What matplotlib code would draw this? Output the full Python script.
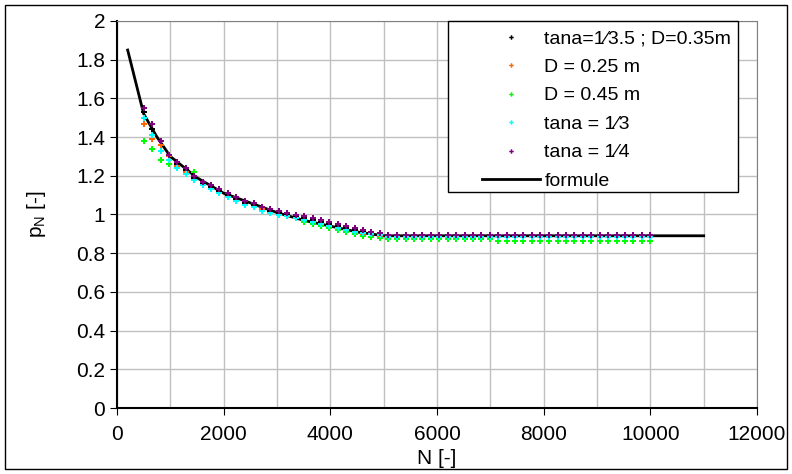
import matplotlib.pyplot as plt
from matplotlib.ticker import MultipleLocator, FormatStrFormatter

plt.rcParams['font.family'] = ['Liberation Sans', 'DejaVu Sans']
plt.rcParams['mathtext.default'] = 'regular'

# N values of the measured points
n_pts = [500, 660, 820, 980, 1130, 1290, 1450, 1610, 1770, 1920,
         2080, 2240, 2400, 2560, 2720, 2870, 3030, 3190, 3350, 3510,
         3670, 3820, 3980, 4140, 4300, 4460, 4620, 4770, 4930, 5090,
         5250, 5410, 5570, 5720, 5880, 6040, 6200, 6360, 6520, 6670,
         6830, 6990, 7150, 7310, 7470, 7620, 7780, 7940, 8100, 8260,
         8420, 8570, 8730, 8890, 9050, 9210, 9370, 9520, 9680, 9840, 10000]

p_ref = [1.53, 1.44, 1.36, 1.30, 1.26, 1.23, 1.19, 1.16, 1.14, 1.12,
         1.10, 1.08, 1.06, 1.05, 1.03, 1.02, 1.01, 1.00, 0.99, 0.98,
         0.97, 0.96, 0.95, 0.94, 0.93, 0.92, 0.91, 0.90, 0.90, 0.89,
         0.89, 0.89, 0.89, 0.89, 0.89, 0.89, 0.89, 0.89, 0.89, 0.89,
         0.89, 0.89, 0.89, 0.89, 0.89, 0.89, 0.89, 0.89, 0.89, 0.89,
         0.89, 0.89, 0.89, 0.89, 0.89, 0.89, 0.89, 0.89, 0.89, 0.89, 0.89]

p_d025 = [1.47, 1.39, 1.36, 1.30, 1.25, 1.22, 1.18, 1.15, 1.13, 1.11,
          1.09, 1.07, 1.05, 1.04, 1.03, 1.01, 1.00, 0.99, 0.98, 0.97,
          0.96, 0.95, 0.94, 0.93, 0.92, 0.91, 0.90, 0.90, 0.89, 0.885,
          0.885, 0.885, 0.885, 0.885, 0.885, 0.885, 0.885, 0.885, 0.885, 0.885,
          0.885, 0.885, 0.885, 0.885, 0.885, 0.885, 0.885, 0.885, 0.885, 0.885,
          0.885, 0.885, 0.885, 0.885, 0.885, 0.885, 0.885, 0.885, 0.885, 0.885, 0.885]

p_d045 = [1.38, 1.34, 1.28, 1.26, 1.24, 1.21, 1.22, 1.15, 1.13, 1.11,
          1.09, 1.07, 1.05, 1.04, 1.02, 1.01, 1.00, 0.99, 0.98, 0.96,
          0.95, 0.94, 0.93, 0.92, 0.91, 0.90, 0.89, 0.885, 0.88, 0.875,
          0.875, 0.875, 0.875, 0.875, 0.875, 0.875, 0.875, 0.875, 0.875, 0.875,
          0.875, 0.875, 0.865, 0.865, 0.865, 0.865, 0.865, 0.865, 0.865, 0.865,
          0.865, 0.865, 0.865, 0.865, 0.865, 0.865, 0.865, 0.865, 0.865, 0.865, 0.865]

p_tan3 = [1.50, 1.41, 1.33, 1.28, 1.24, 1.21, 1.18, 1.15, 1.13, 1.11,
          1.09, 1.07, 1.05, 1.04, 1.02, 1.01, 1.00, 0.99, 0.98, 0.97,
          0.96, 0.95, 0.94, 0.93, 0.92, 0.91, 0.905, 0.90, 0.895, 0.885,
          0.885, 0.885, 0.885, 0.885, 0.885, 0.885, 0.885, 0.885, 0.885, 0.885,
          0.885, 0.885, 0.885, 0.885, 0.885, 0.885, 0.885, 0.885, 0.885, 0.885,
          0.885, 0.885, 0.885, 0.885, 0.885, 0.885, 0.885, 0.885, 0.885, 0.885, 0.885]

p_tan4 = [1.55, 1.47, 1.38, 1.31, 1.27, 1.24, 1.20, 1.17, 1.15, 1.13,
          1.11, 1.09, 1.07, 1.06, 1.04, 1.03, 1.02, 1.01, 1.00, 0.99,
          0.98, 0.97, 0.96, 0.95, 0.94, 0.93, 0.92, 0.91, 0.905, 0.895,
          0.895, 0.895, 0.895, 0.895, 0.895, 0.895, 0.895, 0.895, 0.895, 0.895,
          0.895, 0.895, 0.895, 0.895, 0.895, 0.895, 0.895, 0.895, 0.895, 0.895,
          0.895, 0.895, 0.895, 0.895, 0.895, 0.895, 0.895, 0.895, 0.895, 0.895, 0.895]

# formula curve
n_form = [200, 500, 750, 1000, 1500, 2000, 2500, 3000, 3500, 4000, 4500, 5000, 11000]
p_form = [1.85, 1.52, 1.40, 1.30, 1.19, 1.11, 1.06, 1.01, 0.97, 0.94, 0.91, 0.89, 0.89]

series = [
    (p_ref, 'black', 'tana=1⁄3.5 ; D=0.35m'),
    (p_d025, '#ff6600', 'D = 0.25 m'),
    (p_d045, '#00ff00', 'D = 0.45 m'),
    (p_tan3, '#00ffff', 'tana = 1⁄3'),
    (p_tan4, '#800080', 'tana = 1⁄4'),
]

fig = plt.figure(figsize=(7.92, 4.74), dpi=100)
ax = fig.add_axes([117 / 792, 1 - 408 / 474, 640 / 792, 387 / 474])

for vals, col, lab in series:
    ax.plot(n_pts, vals, linestyle='none', marker='P', markersize=4,
            markeredgewidth=0, color=col, label=lab, zorder=3)
ax.plot(n_form, p_form, color='black', linewidth=2, label='formule', zorder=2)

ax.set_xlim(0, 12000)
ax.set_ylim(0, 2)
ax.xaxis.set_major_locator(MultipleLocator(2000))
ax.xaxis.set_minor_locator(MultipleLocator(1000))
ax.yaxis.set_major_locator(MultipleLocator(0.2))
ax.yaxis.set_major_formatter(FormatStrFormatter('%g'))
ax.grid(True, which='both', color='#c0c0c0', linewidth=1)
ax.set_axisbelow(True)
ax.tick_params(which='major', direction='out', length=5, labelsize=15, color='black')
ax.tick_params(axis='x', which='major', pad=7)
ax.tick_params(which='minor', length=0)

for s in ['top', 'right']:
    ax.spines[s].set_color('#808080')
for s in ['left', 'bottom']:
    ax.spines[s].set_color('black')
    ax.spines[s].set_linewidth(1.5)

ax.set_xlabel('N [-]', fontsize=15, labelpad=4)
ax.set_ylabel('p$_N$ [-]', fontsize=15, labelpad=20)

# legend without its own frame; the box is drawn separately to match the wide left margin
leg = ax.legend(loc='upper right', bbox_to_anchor=(737 / 792, 1 - 24 / 474),
                bbox_transform=fig.transFigure, fontsize=14, frameon=False,
                handlelength=3, handletextpad=0.2, markerscale=0.8,
                labelspacing=0.56, borderpad=0.3, borderaxespad=0)
leg.set_zorder(6)
ax.add_patch(plt.Rectangle((448 / 792, 1 - 192 / 474), 290 / 792, 171 / 474,
                           transform=fig.transFigure, facecolor='white',
                           edgecolor='black', linewidth=1, zorder=5, clip_on=False))

fig.patches.append(plt.Rectangle((0.006, 0.01), 0.988, 0.98, transform=fig.transFigure,
                                 fill=False, edgecolor='black', linewidth=1))

plt.savefig('out.png', dpi=100)
